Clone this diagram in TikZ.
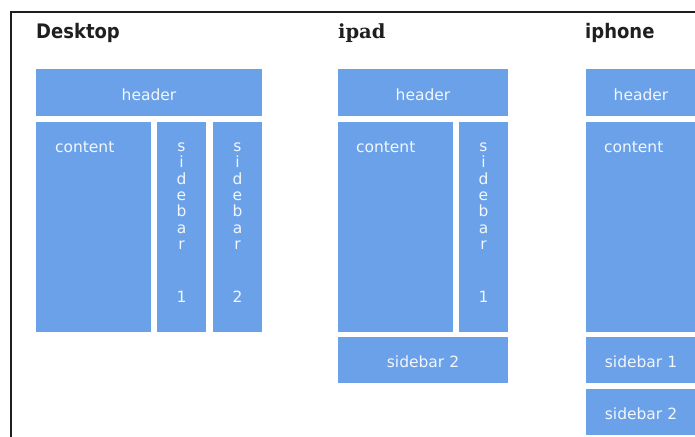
\documentclass[tikz,border=0pt]{standalone}
\usepackage{fontspec}
\setmainfont{DejaVu Sans}
\newfontfamily\slabfont{DejaVu Serif}
\newfontfamily\condfont{DejaVu Sans Condensed}
\usetikzlibrary{fit}
\definecolor{boxblue}{HTML}{6AA1E9}
\definecolor{lbltext}{HTML}{F2F6FD}
\definecolor{frame}{HTML}{1E1E1E}
\begin{document}
\begin{tikzpicture}[x=1pt,y=-1pt,
  box/.style={fill=boxblue,draw=none,inner sep=0pt},
  lbl/.style={text=lbltext,inner sep=0pt,font=\fontsize{15.5}{16}\selectfont},
  clbl/.style={lbl,anchor=base,yshift=-7.5pt},
  vlbl/.style={text=lbltext,inner sep=0pt,align=center,anchor=north,
    font=\fontsize{15.5}{16.3}\selectfont},
  ttl/.style={anchor=base west,inner sep=0pt,text=black!88,
    font=\condfont\bfseries\fontsize{20}{22}\selectfont}]
\useasboundingbox (0,0) rectangle (695,436);
\clip (0,0) rectangle (695,436);
% frame lines
\draw[frame,line width=2pt] (11,437) -- (11,12) -- (696,12);
% titles
\node[ttl] (tdesk) at (36,39) {Desktop};
\node[ttl,font=\slabfont\bfseries\fontsize{19.5}{22}\selectfont] (tipad) at (338,39) {ipad};
\node[ttl] (tiphone) at (585,39) {iphone};
% ---------- Desktop ----------
\node[box,fit={(36,69)(262,116)}] (dh) {};
\node[clbl] (dht) at (dh.center) {header};
\node[box,fit={(36,122)(151,332)}] (dc) {};
\node[lbl,anchor=base west] (dct) at ([shift={(19,31)}]dc.north west) {content};
\node[box,fit={(157,122)(206,332)}] (ds1) {};
\node[vlbl] (ds1t) at ([yshift=-21pt]ds1.north) {s\\i\\d\\e\\b\\a\\r\\[37pt]1};
\node[box,fit={(213,122)(262,332)}] (ds2) {};
\node[vlbl] (ds2t) at ([yshift=-21pt]ds2.north) {s\\i\\d\\e\\b\\a\\r\\[37pt]2};
% ---------- ipad ----------
\node[box,fit={(338,69)(508,116)}] (ih) {};
\node[clbl] (iht) at (ih.center) {header};
\node[box,fit={(338,122)(453,332)}] (ic) {};
\node[lbl,anchor=base west] (ict) at ([shift={(18,31)}]ic.north west) {content};
\node[box,fit={(459,122)(508,332)}] (is1) {};
\node[vlbl] (is1t) at ([yshift=-21pt]is1.north) {s\\i\\d\\e\\b\\a\\r\\[37pt]1};
\node[box,fit={(338,337)(508,383)}] (is2) {};
\node[clbl] (is2t) at (is2.center) {sidebar 2};
% ---------- iphone ----------
\node[box,fit={(586,69)(696,116)}] (ph) {};
\node[clbl] (pht) at (ph.center) {header};
\node[box,fit={(586,122)(696,332)}] (pc) {};
\node[lbl,anchor=base west] (pct) at ([shift={(18,31)}]pc.north west) {content};
\node[box,fit={(586,337)(696,383)}] (ps1) {};
\node[clbl] (ps1t) at (ps1.center) {sidebar 1};
\node[box,fit={(586,389)(696,435)}] (ps2) {};
\node[clbl] (ps2t) at (ps2.center) {sidebar 2};
\end{tikzpicture}
\end{document}
